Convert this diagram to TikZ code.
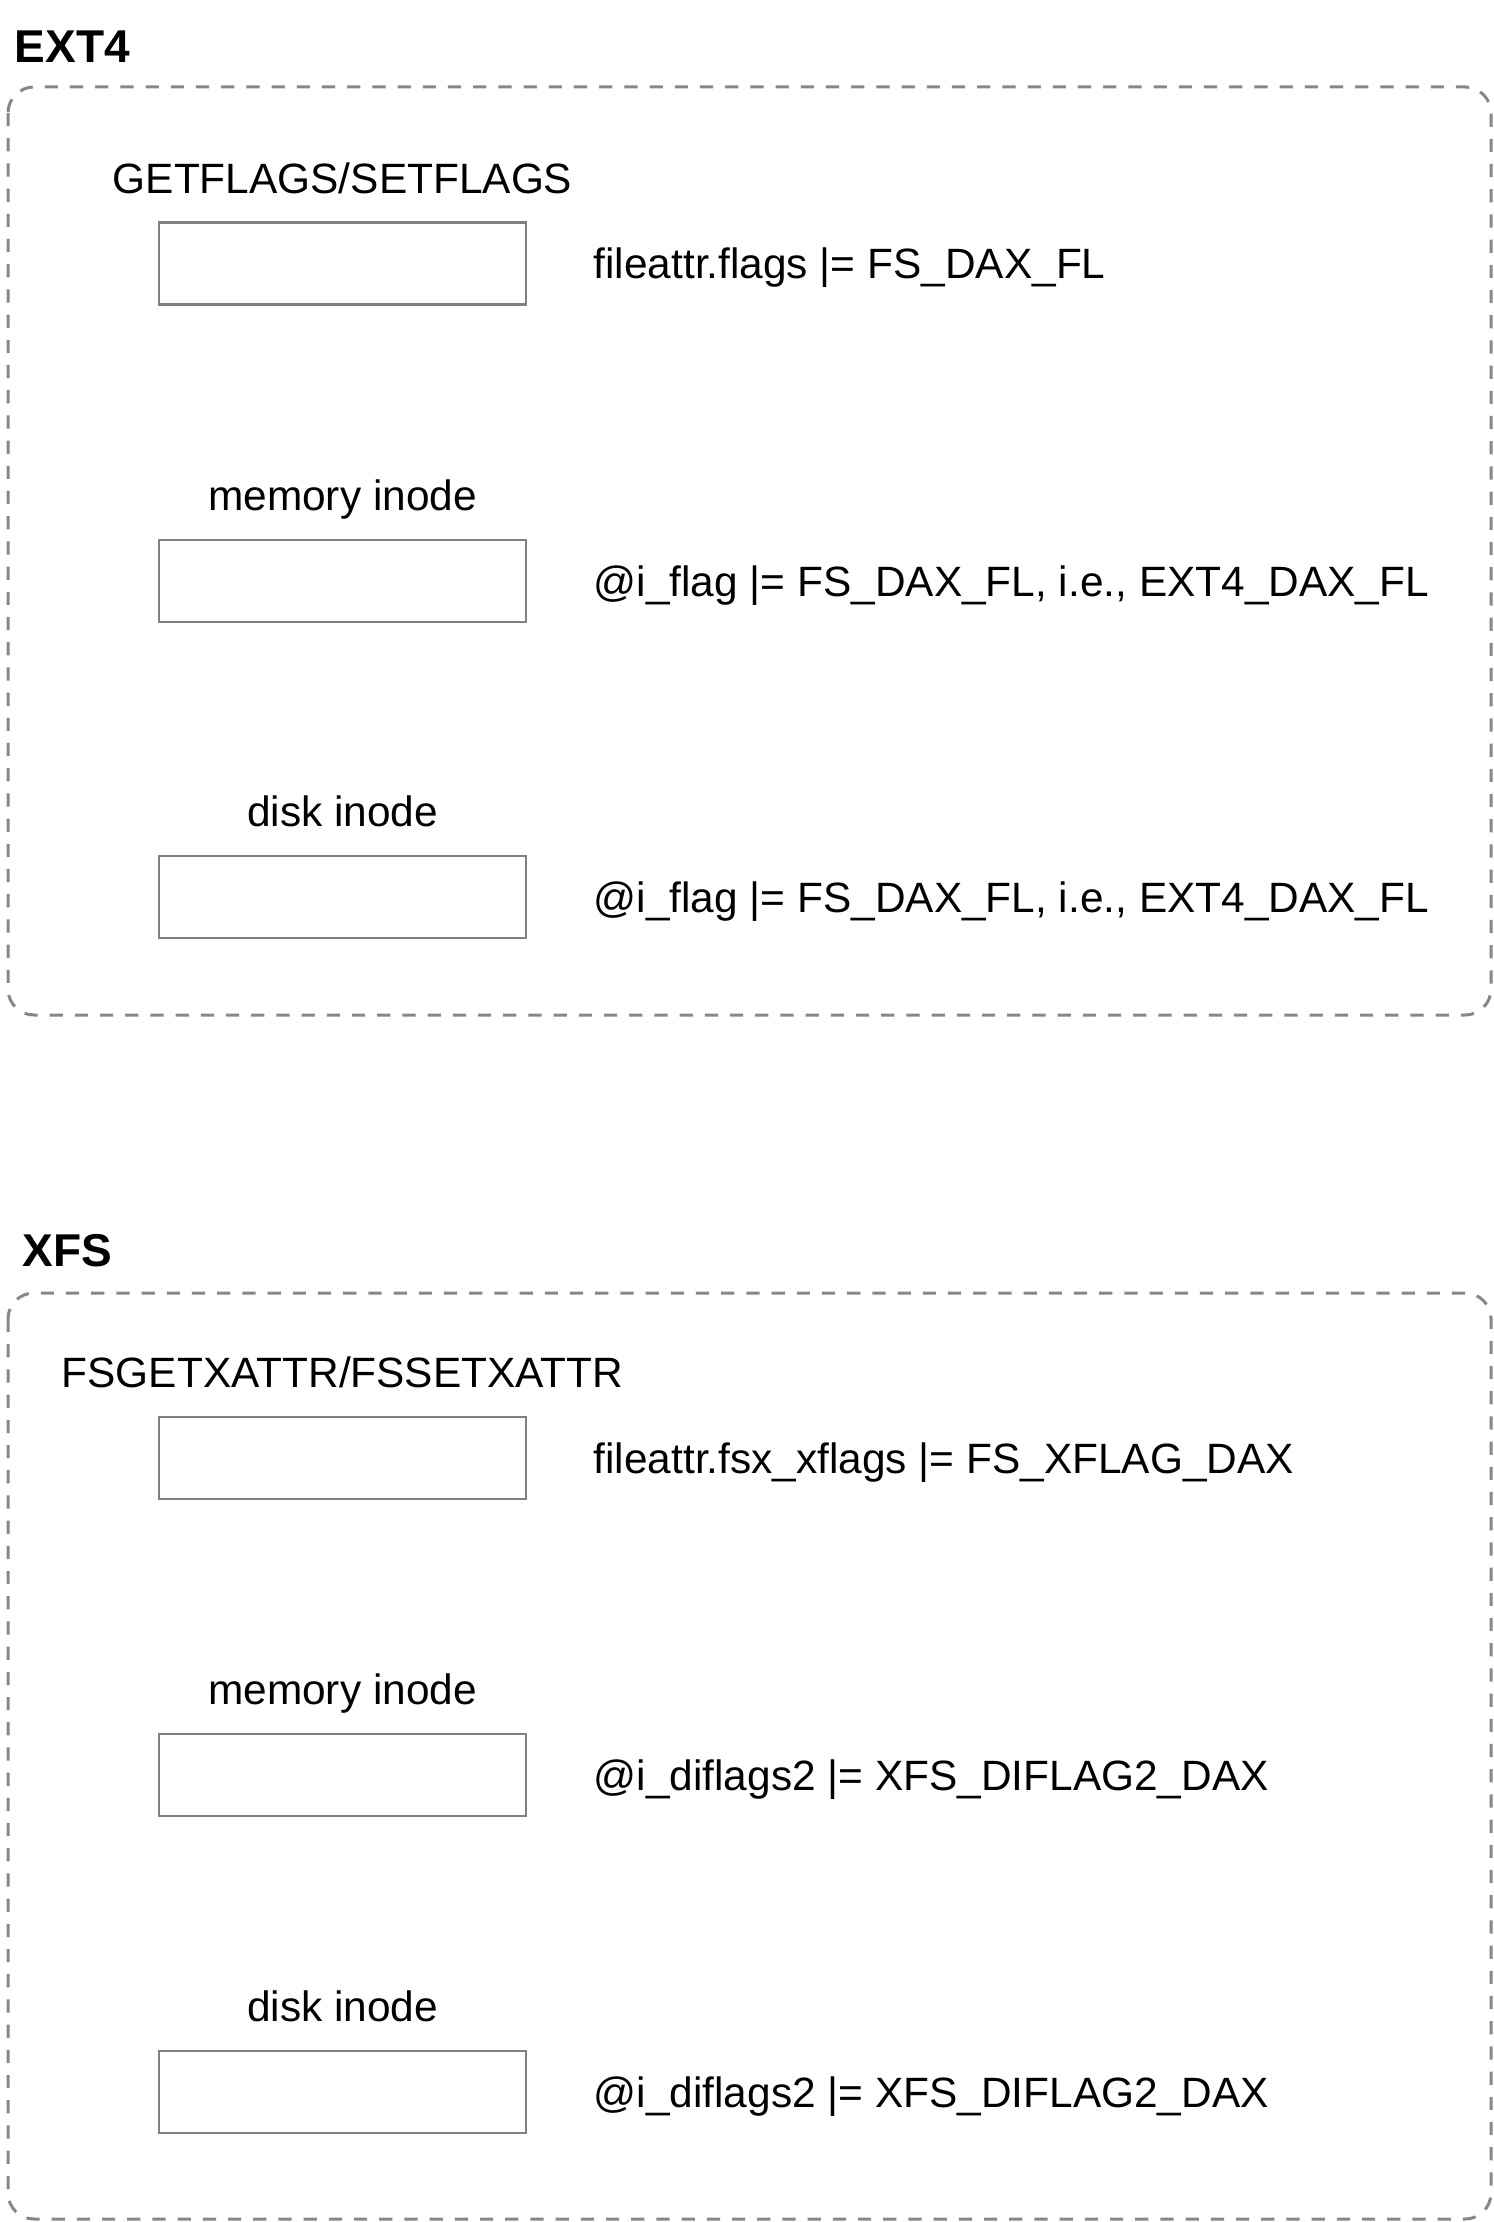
\documentclass[tikz,border=0pt]{standalone}
\usepackage{fontspec}
\setmainfont{Liberation Sans}
\usetikzlibrary{positioning}

\begin{document}
\begin{tikzpicture}[x=0.25pt, y=-0.25pt,
  group/.style={draw=black!47, line width=0.75pt, dash pattern=on 3.3pt off 3pt, rounded corners=6.5pt},
  flagbox/.style={draw=black!50, line width=0.65pt, minimum width=91.75pt, minimum height=20.5pt, inner sep=0pt},
  caption/.style={font=\fontsize{10.6}{13}\selectfont, inner sep=0pt, text height=7.7pt, text depth=0pt},
  title/.style={font=\fontsize{11.5}{14}\selectfont\bfseries, inner sep=0pt, anchor=base west}]
  \useasboundingbox (0,0) rectangle (1494,2222);
  % --- EXT4 ---
  \node[title] (ext4) at (14,63) {EXT4};
  \draw[group] (8,87) rectangle (1491,1015);
  \node[flagbox] (e1) at (342.5,263.5) {};
  \node[flagbox] (e2) at (342.5,581) {};
  \node[flagbox] (e3) at (342.5,897) {};
  \node[caption, above=6.8pt of e1] (e1l) {GETFLAGS/SETFLAGS};
  \node[caption, above=6.8pt of e2] (e2l) {memory inode};
  \node[caption, above=6.8pt of e3] (e3l) {disk inode};
  \node[caption, right=16.4pt of e1] (e1t) {fileattr.flags |= FS\_DAX\_FL};
  \node[caption, right=16.4pt of e2] (e2t) {@i\_flag |= FS\_DAX\_FL, i.e., EXT4\_DAX\_FL};
  \node[caption, right=16.4pt of e3] (e3t) {@i\_flag |= FS\_DAX\_FL, i.e., EXT4\_DAX\_FL};
  % --- XFS ---
  \node[title] (xfs) at (22,1266) {XFS};
  \draw[group] (8,1293) rectangle (1491,2219);
  \node[flagbox] (x1) at (342.5,1458) {};
  \node[flagbox] (x2) at (342.5,1775) {};
  \node[flagbox] (x3) at (342.5,2092) {};
  \node[caption, above=6.8pt of x1] (x1l) {FSGETXATTR/FSSETXATTR};
  \node[caption, above=6.8pt of x2] (x2l) {memory inode};
  \node[caption, above=6.8pt of x3] (x3l) {disk inode};
  \node[caption, right=16.4pt of x1] (x1t) {fileattr.fsx\_xflags |= FS\_XFLAG\_DAX};
  \node[caption, right=16.4pt of x2] (x2t) {@i\_diflags2 |= XFS\_DIFLAG2\_DAX};
  \node[caption, right=16.4pt of x3] (x3t) {@i\_diflags2 |= XFS\_DIFLAG2\_DAX};
\end{tikzpicture}
\end{document}
